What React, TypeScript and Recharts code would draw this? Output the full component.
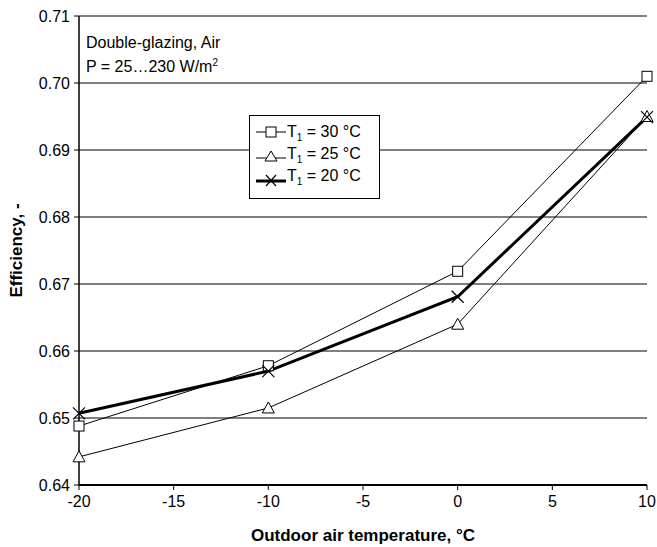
import React from 'react';
import {
  LineChart,
  Line,
  XAxis,
  YAxis,
  CartesianGrid,
} from 'recharts';

// Outdoor air temperature, °C
const temps = [-20, -10, 0, 10];
// Efficiency per inlet temperature T1
const eff30 = [0.6488, 0.6578, 0.6719, 0.701];
const eff25 = [0.6442, 0.6515, 0.664, 0.695];
const eff20 = [0.6507, 0.657, 0.6681, 0.6949];

const xTicks = [-20, -15, -10, -5, 0, 5, 10];
const yTicks = [0.64, 0.65, 0.66, 0.67, 0.68, 0.69, 0.7, 0.71];

const seriesNames = ['30', '25', '20'];

const data = temps.map((t, i) => ({
  t,
  s30: eff30[i],
  s25: eff25[i],
  s20: eff20[i],
}));

const FONT = '"Liberation Sans", Arial, sans-serif';

const Square = (p: any) => {
  const { cx, cy, index } = p;
  if (cx == null || cy == null) return <g key={index} />;
  return (
    <rect key={index} x={cx - 5} y={cy - 5} width={10} height={10} fill="#fff" stroke="#000" strokeWidth={1} />
  );
};

const Triangle = (p: any) => {
  const { cx, cy, index } = p;
  if (cx == null || cy == null) return <g key={index} />;
  return (
    <path
      key={index}
      d={`M${cx},${cy - 6} L${cx + 6},${cy + 5} L${cx - 6},${cy + 5} Z`}
      fill="#fff"
      stroke="#000"
      strokeWidth={1}
    />
  );
};

const Cross = (p: any) => {
  const { cx, cy, index } = p;
  if (cx == null || cy == null) return <g key={index} />;
  return (
    <path
      key={index}
      d={`M${cx - 6},${cy - 6} L${cx + 6},${cy + 6} M${cx + 6},${cy - 6} L${cx - 6},${cy + 6}`}
      stroke="#000"
      strokeWidth={1.2}
    />
  );
};

const legendIcons = [
  (
    <g>
      <line x1={0} y1={10} x2={30} y2={10} stroke="#000" strokeWidth={1} />
      <rect x={10} y={5} width={10} height={10} fill="#fff" stroke="#000" />
    </g>
  ),
  (
    <g>
      <line x1={0} y1={14} x2={30} y2={14} stroke="#000" strokeWidth={1} />
      <path d="M15,7 L21,17 L9,17 Z" fill="#fff" stroke="#000" />
    </g>
  ),
  (
    <g>
      <line x1={0} y1={15} x2={30} y2={15} stroke="#000" strokeWidth={3} />
      <path d="M10,9 L20,20 M20,9 L10,20" stroke="#000" strokeWidth={1.2} />
    </g>
  ),
];

const LegendBox = () => (
  <div
    style={{
      position: 'absolute',
      left: 249,
      top: 115,
      border: '1px solid #000',
      background: '#fff',
      width: 131,
      height: 84,
      boxSizing: 'border-box',
      padding: '6px 0 0 6px',
      fontFamily: FONT,
      fontSize: 16,
      color: '#000',
    }}
  >
    {seriesNames.map((n, i) => (
      <div key={n} style={{ display: 'flex', alignItems: 'center', height: 22 }}>
        <svg width={31} height={22} style={{ display: 'block' }}>
          {legendIcons[i]}
        </svg>
        <span style={{ whiteSpace: 'nowrap' }}>
          T<sub style={{ fontSize: 10 }}>1</sub> = {n} °C
        </span>
      </div>
    ))}
  </div>
);

export default function App() {
  return (
    <div style={{ position: 'absolute', left: 0, top: 0, width: 657, height: 547, background: '#fff' }}>
      <LineChart
        width={657}
        height={547}
        data={data}
        margin={{ top: 16, right: 10, left: 0, bottom: 0 }}
        style={{ fontFamily: FONT }}
      >
        <CartesianGrid horizontal vertical={false} stroke="#000" strokeWidth={1} />
        <XAxis
          dataKey="t"
          type="number"
          domain={[-20, 10]}
          ticks={xTicks}
          height={62}
          axisLine={{ stroke: '#000', strokeWidth: 2 }}
          tickLine={{ stroke: '#000' }}
          tickSize={5}
          tick={{ fill: '#000', fontSize: 16, fontFamily: FONT }}
          tickMargin={6}
          label={{
            value: 'Outdoor air temperature, °C',
            position: 'insideBottom',
            offset: 6,
            style: { fill: '#000', fontSize: 17, fontWeight: 'bold', fontFamily: FONT },
          }}
        />
        <XAxis
          xAxisId="top"
          orientation="top"
          dataKey="t"
          type="number"
          domain={[-20, 10]}
          height={0}
          tick={false}
          tickLine={false}
          axisLine={{ stroke: '#000', strokeWidth: 1 }}
        />
        <YAxis
          type="number"
          domain={[0.64, 0.71]}
          ticks={yTicks}
          width={79}
          interval={0}
          axisLine={{ stroke: '#000', strokeWidth: 1.5 }}
          tickLine={{ stroke: '#000' }}
          tickSize={5}
          tickFormatter={(v: number) => v.toFixed(2)}
          tick={{ fill: '#000', fontSize: 16, fontFamily: FONT }}
          tickMargin={4}
          label={{
            value: 'Efficiency, -',
            angle: -90,
            position: 'insideLeft',
            offset: 16,
            style: { fill: '#000', fontSize: 17, fontWeight: 'bold', fontFamily: FONT, textAnchor: 'middle' },
          }}
        />
        <YAxis
          yAxisId="right"
          orientation="right"
          type="number"
          domain={[0.64, 0.71]}
          width={0}
          tick={false}
          tickLine={false}
          axisLine={{ stroke: '#000', strokeWidth: 1 }}
        />
        <Line
          dataKey="s30"
          name="T1 = 30 °C"
          stroke="#000"
          strokeWidth={1}
          dot={Square}
          activeDot={false}
          isAnimationActive={false}
        />
        <Line
          dataKey="s25"
          name="T1 = 25 °C"
          stroke="#000"
          strokeWidth={1}
          dot={Triangle}
          activeDot={false}
          isAnimationActive={false}
        />
        <Line
          dataKey="s20"
          name="T1 = 20 °C"
          stroke="#000"
          strokeWidth={3}
          dot={Cross}
          activeDot={false}
          isAnimationActive={false}
        />
      </LineChart>
      <LegendBox />
      <div
        style={{
          position: 'absolute',
          left: 86,
          top: 31,
          fontFamily: FONT,
          fontSize: 16,
          lineHeight: '24px',
          color: '#000',
        }}
      >
        <div>Double-glazing, Air</div>
        <div>
          P = 25…230 W/m<sup style={{ fontSize: 10, verticalAlign: 'super', lineHeight: 0 }}>2</sup>
        </div>
      </div>
    </div>
  );
}
